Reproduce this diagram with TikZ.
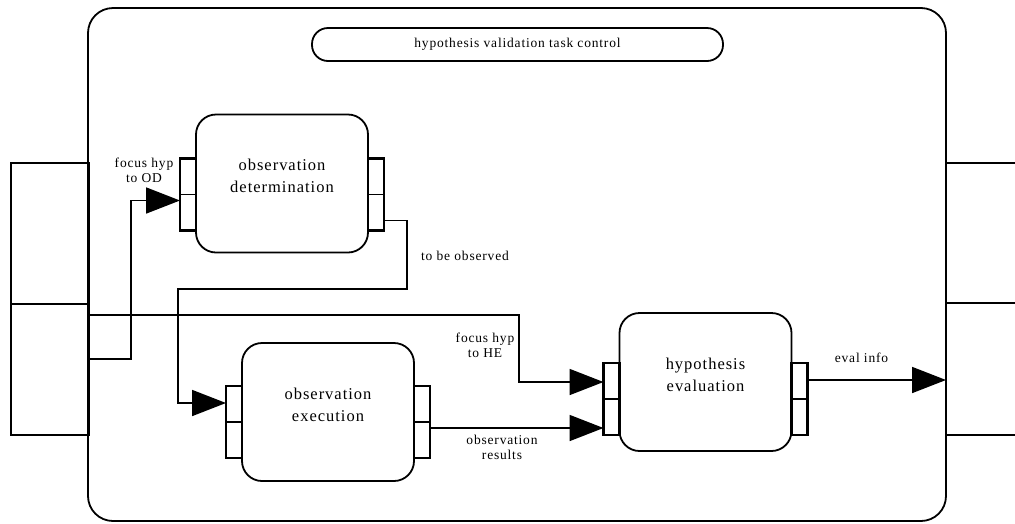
\documentclass[tikz,border=0pt]{standalone}
\usepackage{fontspec}
\setmainfont{Liberation Serif}
\usetikzlibrary{arrows.meta, positioning, shapes.misc}
\newcommand{\smallspaced}{\fontsize{13.5}{15}\selectfont\addfontfeature{LetterSpace=6}}
\tikzset{
  process/.style={rectangle, draw, rounded corners=20pt, fill=white, outer sep=0pt,
    minimum width=172pt, minimum height=138pt},
  proctext/.style={align=center, yshift=7.5pt, font=\fontsize{16.5}{22}\selectfont\addfontfeature{LetterSpace=6}},
  port/.style={rectangle, draw, line width=2.4pt, fill=white, outer sep=0pt, minimum width=16pt, minimum height=72pt,
    path picture={\draw[line width=1.8pt] (path picture bounding box.west) -- (path picture bounding box.east);}},
  store/.style={rectangle, draw, line width=2.2pt, outer sep=0pt, minimum width=#1},
  store/.default=78pt,
  lbl/.style={align=center, font=\smallspaced},
}
\begin{document}
\begin{tikzpicture}[x=1pt, y=-1pt, line width=1.8pt, >={Triangle[length=34pt, width=26pt]}]
\useasboundingbox (0,0) rectangle (1015,523);
%task frame and its control
\node[draw, rounded corners=25pt, minimum width=858pt, minimum height=513pt] (task) at (517,264.5) {};
\node[draw, rounded corners=16pt, minimum width=411pt, minimum height=33pt, font=\smallspaced] (ctrl) at (517.5,44.5) {hypothesis validation task control};
%stores left and right
\node[store, minimum height=141pt] (in1) at (50,233.5) {};
\node[store, minimum height=131pt] (in2) at (50,369.5) {};
\node[store=90pt, minimum height=140pt] (out1) at (991,233) {};
\node[store=90pt, minimum height=132pt] (out2) at (991,369) {};
%observation determination
\node[process, label={[proctext]center:observation\\determination}] (od) at (282,183.5) {};
\node[port, anchor=north east] (odin) at ([yshift=-44pt]od.north west) {};
\node[port, anchor=north west] (odout) at ([yshift=-44pt]od.north east) {};
%observation execution
\node[process, label={[proctext]center:observation\\execution}] (oe) at (328,412) {};
\node[port, anchor=north east] (oein) at ([yshift=-43pt]oe.north west) {};
\node[port, anchor=north west] (oeout) at ([yshift=-43pt]oe.north east) {};
%hypothesis evaluation
\node[process, label={[proctext]center:hypothesis\\evaluation}] (he) at (705.5,382) {};
\node[port, anchor=north east] (hein) at ([yshift=-50pt]he.north west) {};
\node[port, anchor=north west] (heout) at ([yshift=-50pt]he.north east) {};
% flows
\draw[->] ([yshift=10.5pt]in2.east) -- ++(42,0) |- ([yshift=-6pt]odin.west);
\draw[->] ([yshift=-26pt]odout.east) -| (407,289) -- (178,289) |- ([yshift=19pt]oein.west);
\draw[->] ([yshift=54.5pt]in2.east) -- ++(430,0) |- ([yshift=17pt]hein.west);
\draw[->] ([yshift=-6pt]oeout.east) -- ([yshift=-6pt]oeout.east -| hein.west);
\draw[->] ([yshift=19pt]heout.east) -- ([yshift=19pt]heout.east -| out2.west);
% flow labels
\node[lbl] (lodin) at (144,170) {focus hyp\\to OD};
\node[lbl] (lobs) at (465,256) {to be observed};
\node[lbl] (lhein) at (485,345) {focus hyp\\to HE};
\node[lbl] (lres) at (502,447) {observation\\results};
\node[lbl] (leval) at (861.5,358) {eval info};
\end{tikzpicture}
\end{document}
